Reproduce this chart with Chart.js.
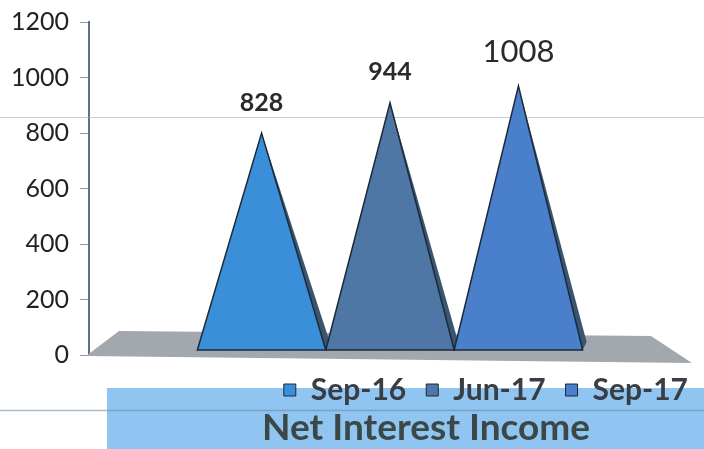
<!DOCTYPE html>
<html>
<head>
<meta charset="utf-8">
<script src="https://cdn.jsdelivr.net/npm/chart.js@4"></script>
<style>
  html, body { margin: 0; padding: 0; background: #fff; }
  #wrap { position: relative; width: 704px; height: 449px; }
  #title {
    position: absolute; left: 226px; top: 403px; width: 400px;
    text-align: center; font: bold 37px Lato, sans-serif; color: #3c4848;
  }
</style>
</head>
<body>
<div id="wrap">
  <canvas id="niiChart" width="704" height="449"></canvas>
  <div id="title">Net Interest Income</div>
</div>
<script>
// Net Interest Income per period
const periods = ["Sep-16", "Jun-17", "Sep-17"];
const netInterestIncome = [828, 944, 1008];
const yTicks = [0, 200, 400, 600, 800, 1000, 1200];

const periodColors = ["#3a8fd8", "#4f77a6", "#4a7fcc"];

// draws the floor, the pyramids and the value labels
const pyramidPlugin = {
  id: "pyramids",
  beforeDraw(chart) {
    const { ctx, width } = chart;
    ctx.save();
    ctx.fillStyle = "#8fc5f0";
    ctx.fillRect(107, 388, width - 107, 61);
    ctx.strokeStyle = "rgba(110,140,170,0.6)";
    ctx.lineWidth = 1.5;
    ctx.beginPath();
    ctx.moveTo(0, 410.5);
    ctx.lineTo(width, 410.5);
    ctx.stroke();
    ctx.restore();
  },
  beforeDatasetsDraw(chart) {
    const { ctx, chartArea } = chart;
    const y0 = chart.scales.y.getPixelForValue(0);
    ctx.save();
    // scan line
    ctx.strokeStyle = "rgba(150,175,200,0.6)";
    ctx.lineWidth = 1;
    ctx.beginPath();
    ctx.moveTo(0, 117.5);
    ctx.lineTo(chart.width, 117.5);
    ctx.stroke();
    // floor
    ctx.fillStyle = "#a3a7ae";
    ctx.beginPath();
    ctx.moveTo(chartArea.left - 3, y0 + 1);
    ctx.lineTo(chartArea.left + 30, y0 - 24);
    ctx.lineTo(chartArea.right - 40, y0 - 19);
    ctx.lineTo(chartArea.right + 1, y0 + 8);
    ctx.closePath();
    ctx.fill();
    ctx.restore();
  },
  beforeDatasetDraw() {
    return false;
  },
  afterDatasetsDraw(chart) {
    const { ctx } = chart;
    ctx.save();
    chart.data.datasets.forEach((ds, i) => {
      const bar = chart.getDatasetMeta(i).data[0];
      const half = bar.width / 2;
      // side face
      ctx.fillStyle = "#3a5570";
      ctx.beginPath();
      ctx.moveTo(bar.x, bar.y);
      ctx.lineTo(bar.x + half, bar.base);
      ctx.lineTo(bar.x + half + 4, bar.base - 8);
      ctx.closePath();
      ctx.fill();
      // front face
      ctx.fillStyle = ds.backgroundColor;
      ctx.strokeStyle = "#1c2a38";
      ctx.lineWidth = 1.5;
      ctx.beginPath();
      ctx.moveTo(bar.x - half, bar.base);
      ctx.lineTo(bar.x, bar.y);
      ctx.lineTo(bar.x + half, bar.base);
      ctx.closePath();
      ctx.fill();
      ctx.stroke();
      // value label
      const last = i === chart.data.datasets.length - 1;
      ctx.fillStyle = "#2a2a2a";
      ctx.font = last ? "31px Lato" : "bold 25px Lato";
      ctx.textAlign = "center";
      ctx.textBaseline = "bottom";
      ctx.fillText(ds.data[0], bar.x, bar.y - 18);
    });
    ctx.restore();
  }
};

new Chart(document.getElementById("niiChart"), {
  type: "bar",
  data: {
    labels: ["Net Interest Income"],
    datasets: periods.map((p, i) => ({
      label: p,
      data: [netInterestIncome[i]],
      backgroundColor: periodColors[i],
      borderColor: "#1c2a38",
      borderWidth: 1,
      yAxisID: "y2",
      barPercentage: 1,
      categoryPercentage: 0.64
    }))
  },
  options: {
    responsive: false,
    animation: false,
    layout: { padding: { left: 0, right: -4, top: 22, bottom: 34 } },
    scales: {
      x: { display: false },
      y: {
        min: 0,
        max: 1200,
        afterBuildTicks: (s) => { s.ticks = yTicks.map((v) => ({ value: v })); },
        afterFit: (s) => { s.paddingTop = 0; s.paddingBottom = 0; },
        border: { color: "#5d6f8a", width: 2 },
        grid: { drawOnChartArea: false, tickLength: 9, color: "#8a98aa" },
        ticks: {
          font: { family: "Lato", size: 25 },
          color: "#222",
          padding: 11,
          callback: (v) => String(v)
        }
      },
      y2: {
        position: "right",
        min: -19,
        max: 1252,
        ticks: { display: false },
        grid: { display: false },
        border: { display: false },
        afterFit: (s) => { s.width = 17; }
      }
    },
    plugins: {
      legend: {
        position: "bottom",
        align: "end",
        labels: {
          font: { family: "Lato", size: 30, weight: "bold" },
          color: "#383e44",
          boxWidth: 12,
          boxHeight: 12,
          padding: 20
        }
      },
      tooltip: { enabled: false }
    }
  },
  plugins: [pyramidPlugin]
});
</script>
</body>
</html>
